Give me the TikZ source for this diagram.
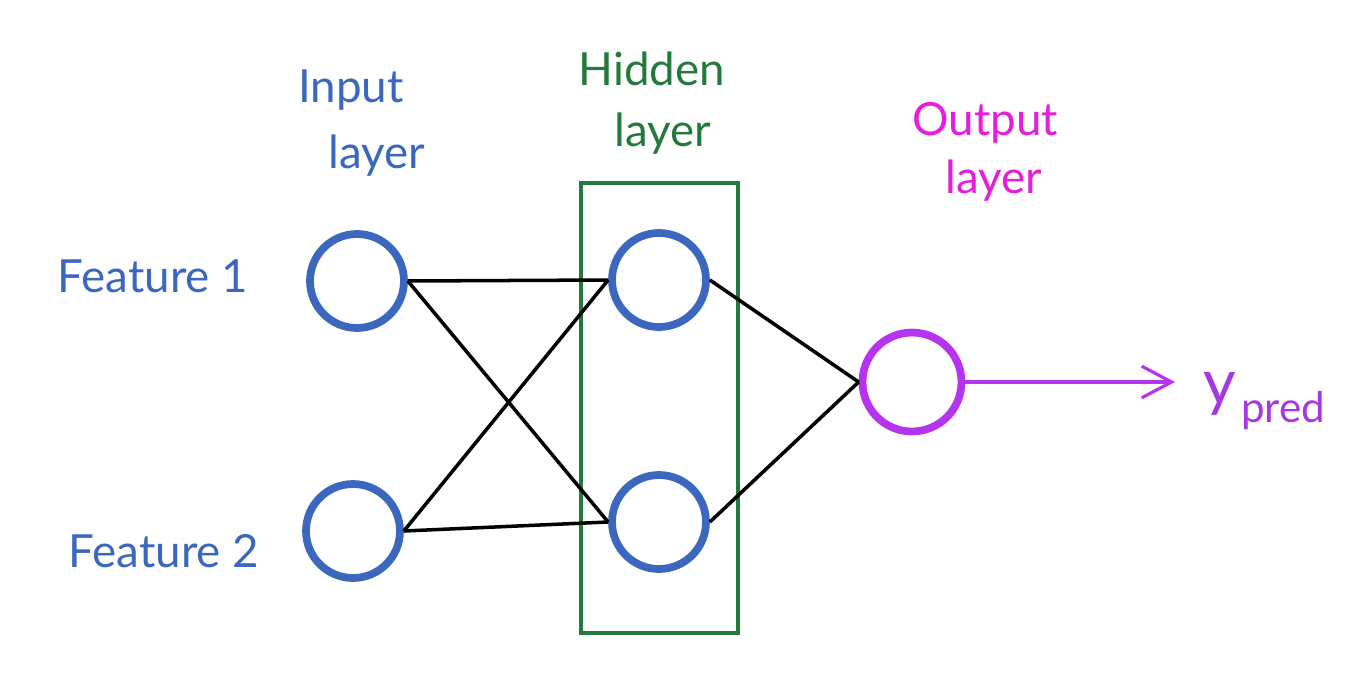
\documentclass[tikz,border=0pt]{standalone}
\usepackage{fontspec}
\setmainfont{Lato}
\usetikzlibrary{arrows.meta}
\definecolor{nnblue}{HTML}{3B68BE}
\definecolor{nngreen}{HTML}{237A3C}
\definecolor{nnmagenta}{HTML}{E81CDB}
\definecolor{nnpurple}{HTML}{B534F0}
\definecolor{nnpred}{HTML}{A538E0}
\tikzset{
  neuron/.style={circle, draw=#1, line width=4.4pt, inner sep=0pt, minimum size=1.88cm},
  wire/.style={draw=black, line width=2pt},
  lbl/.style={text=#1, font=\fontsize{26}{30}\selectfont, anchor=base, inner sep=0pt},
}
\begin{document}
\begin{tikzpicture}[x=0.02cm, y=-0.02cm]
\useasboundingbox (0,0) rectangle (1363,680);
\fill[white] (0,0) rectangle (1363,680);

% hidden layer frame
\node[draw=nngreen, line width=1.8pt, inner sep=0pt, minimum width=3.14cm, minimum height=9.0cm] (box) at (659.5,408) {};

% neurons
\node[neuron=nnblue] (i1) at (357,281) {};
\node[neuron=nnblue] (i2) at (353,531) {};
\node[neuron=nnblue] (h1) at (659,280) {};
\node[neuron=nnblue] (h2) at (659,522) {};
\node[neuron=nnpurple, minimum size=1.98cm] (o) at (912,382) {};

% connections
\draw[wire] (i1.east) -- (h1.west);
\draw[wire] (i1.east) -- (h2.west);
\draw[wire] (i2.east) -- (h1.west);
\draw[wire] (i2.east) -- (h2.west);
\draw[wire] (h1.east) -- (o.west);
\draw[wire] (h2.east) -- (o.west);

% output arrow
\coordinate (yend) at (1175,382);
\draw[draw=nnpurple, line width=1.8pt, -{Straight Barb[length=17pt,width=18pt,line width=1.8pt]}] (o.east) -- (yend);

% labels
\node[lbl=nnblue] (tin1) at (351,102) {Input};
\node[lbl=nnblue] (tin2) at (377,168) {layer};
\node[lbl=nngreen] (thid1) at (652,85) {Hidden};
\node[lbl=nngreen] (thid2) at (663,146) {layer};
\node[lbl=nnmagenta] (tout1) at (985,135) {Output};
\node[lbl=nnmagenta] (tout2) at (994,193) {layer};
\node[lbl=nnblue] (tf1) at (153,292) {Feature 1};
\node[lbl=nnblue] (tf2) at (164,567) {Feature 2};
\node[text=nnpred, anchor=base west, inner sep=0pt, font=\fontsize{36}{40}\selectfont] (ypred) at (1203,404)
  {y\kern3pt\raisebox{-0.3em}{\fontsize{24}{28}\selectfont pred}};
\end{tikzpicture}
\end{document}
